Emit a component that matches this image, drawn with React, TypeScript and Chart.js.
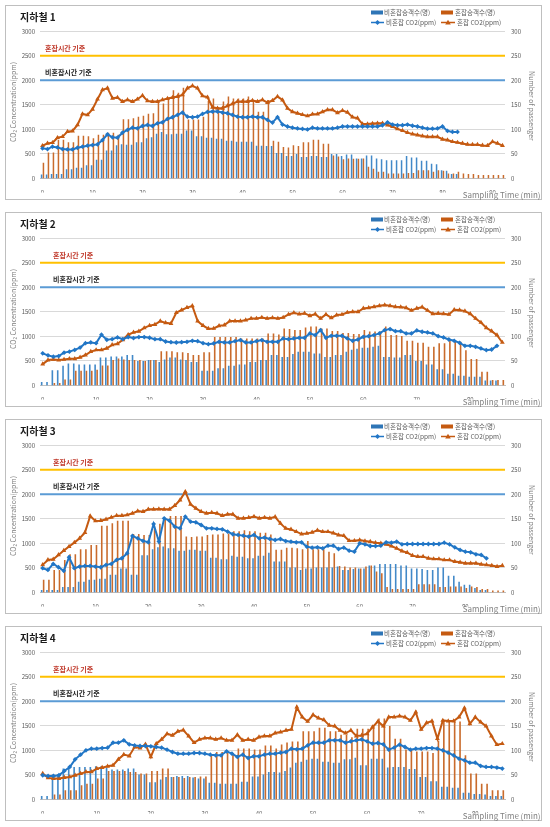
import React, { useEffect, useRef } from 'react';
import { Chart, registerables } from 'chart.js';

Chart.register(...registerables);

const FONT = '"Noto Sans CJK KR", "Noto Sans", sans-serif';

// reference limits (ppm)
const CONGESTED_LIMIT = 2500;
const NONCONGESTED_LIMIT = 2000;
const CO2_MAX = 3000;
const CO2_STEP = 500;
const PASS_MAX = 300;
const PASS_STEP = 50;
const X_LABEL_EVERY = 10;

const TITLES = ['지하철 1', '지하철 2', '지하철 3', '지하철 4'];
const LEGEND_LABELS = ['비혼잡승객수(명)', '혼잡승객수(명)', '비혼잡 CO2(ppm)', '혼잡 CO2(ppm)'];
const LIMIT_LABELS = ['혼잡시간 기준', '비혼잡시간 기준'];
const Y_TITLE = 'CO₂ Concentration(ppm)';
const Y2_TITLE = 'Number of passenger';
const X_TITLE = 'Sampling Time (min)';

// number of one-minute categories per line
const MINUTE_COUNTS = [93, 87, 88, 86];

// ---------- Subway 1 ----------
const S1_NONCONG_PASS = [8,8,9,9,9,19,19,22,22,27,27,38,38,57,57,68,70,69,69,74,74,82,84,91,95,90,90,91,91,98,98,86,86,83,83,81,81,77,77,75,75,75,75,67,67,66,66,52,52,46,46,50,44,44,46,46,44,44,50,50,46,49,49,41,41,47,47,41,39,37,37,37,37,46,43,43,36,36,30,29,17,16,9,9];
const S1_CONG_PASS = [32,53,53,79,79,74,74,87,87,86,82,89,89,93,93,89,121,121,123,126,128,132,133,157,153,160,180,175,185,120,120,120,126,158,163,145,157,167,163,163,163,167,160,136,136,160,77,75,64,63,68,66,74,74,79,79,71,71,47,45,39,41,40,40,41,24,20,14,14,10,10,10,10,11,11,17,17,17,14,17,16,10,10,14,10,9,9,7,7,7,7,7,7];
const S1_NONCONG_CO2 = [614,600,648,634,600,593,593,627,648,668,682,695,784,900,839,832,934,989,1036,1023,1070,1091,1070,1125,1145,1214,1248,1295,1343,1261,1248,1261,1316,1357,1364,1364,1343,1330,1295,1261,1248,1248,1261,1248,1248,1193,1139,1250,1100,1060,1035,1020,1010,1000,1035,1020,1020,1020,1020,1035,1060,1060,1060,1060,1060,1060,1060,1060,1085,1145,1100,1085,1085,1100,1075,1060,1035,1015,1015,1020,1060,970,950,950];
const S1_CONG_CO2 = [668,716,730,832,852,955,968,1091,1316,1295,1411,1616,1807,1841,1636,1650,1568,1602,1568,1616,1691,1582,1568,1568,1602,1630,1650,1670,1705,1841,1889,1841,1684,1657,1452,1432,1432,1480,1520,1568,1568,1568,1589,1568,1602,1548,1589,1670,1600,1430,1360,1330,1300,1275,1310,1315,1360,1400,1400,1340,1385,1350,1250,1230,1110,1110,1120,1125,1125,1090,1060,1010,975,935,905,885,865,850,850,850,800,785,750,735,715,695,690,690,675,670,750,715,670];

// ---------- Subway 2 ----------
const S2_NONCONG_PASS = [7,7,31,31,40,45,45,43,43,43,43,57,57,59,59,59,62,62,50,50,52,52,48,53,57,57,53,52,48,48,30,30,30,35,35,40,40,43,43,48,48,52,52,62,62,58,58,64,69,69,69,65,65,58,58,62,62,69,73,75,77,77,79,81,58,58,57,57,62,62,50,50,43,43,33,33,24,24,20,20,18,18,18,10,10,10];
const S2_CONG_PASS = [0,0,5,5,12,12,30,30,30,30,32,41,41,52,55,53,52,52,52,50,52,52,70,70,70,68,68,66,62,62,68,68,99,99,99,99,99,96,96,96,96,96,106,106,104,116,115,113,113,118,120,120,116,116,111,111,107,107,105,105,113,110,110,110,120,103,103,101,91,91,87,87,79,79,86,86,92,92,89,72,54,54,28,28,11,11,11];
const S2_NONCONG_CO2 = [655,614,587,600,670,690,725,773,863,877,863,1035,932,945,980,945,987,966,987,987,973,945,945,897,883,876,883,890,911,904,863,842,857,890,877,877,904,925,877,877,904,925,890,890,890,959,945,959,972,972,1061,1027,1129,972,1013,1013,1013,959,911,938,993,1006,1027,1061,1129,1149,1108,1108,1061,1061,1122,1095,1081,1061,1006,979,938,911,870,809,809,789,755,721,734,809];
const S2_CONG_CO2 = [435,518,531,518,531,545,545,573,621,690,725,725,759,828,849,932,1035,1083,1104,1173,1221,1242,1311,1277,1263,1484,1539,1587,1622,1311,1221,1159,1163,1217,1230,1312,1312,1312,1333,1367,1367,1387,1367,1380,1367,1387,1448,1482,1455,1469,1421,1455,1367,1448,1380,1435,1448,1489,1503,1503,1571,1584,1605,1625,1639,1625,1605,1598,1584,1530,1571,1598,1530,1462,1469,1462,1448,1544,1537,1516,1462,1367,1285,1176,1108,1027,877];

// ---------- Subway 3 ----------
const S3_NONCONG_PASS = [5,5,5,5,11,11,11,22,22,26,26,28,28,36,36,49,49,36,36,76,76,88,92,94,90,90,85,85,87,87,85,85,71,71,68,68,75,73,73,70,70,75,75,81,63,63,63,51,51,46,49,49,51,51,51,51,53,46,46,48,49,49,55,55,58,58,58,58,55,55,49,49,48,46,46,51,51,34,34,22,16,16,9,5,5];
const S3_CONG_PASS = [26,26,46,46,66,78,78,88,88,97,97,136,136,141,146,146,146,119,119,117,117,130,140,150,156,156,156,114,113,114,114,117,118,118,120,120,125,125,127,125,125,122,122,118,87,87,91,91,90,88,105,88,88,88,83,80,54,53,51,51,49,53,55,43,39,11,7,7,7,7,7,17,17,17,17,11,11,12,12,12,9,12,11,7,7,4,4,4];
const S3_NONCONG_CO2 = [495,461,583,515,441,719,495,529,542,542,529,515,563,583,664,698,800,1153,1105,1051,1024,1397,1037,1512,1464,1342,1308,1546,1444,1430,1376,1308,1308,1295,1288,1241,1187,1173,1159,1139,1173,1105,1119,1092,1070,1090,1049,1036,1022,1022,934,914,921,900,955,955,887,914,853,833,1002,982,948,948,955,1022,1015,1036,982,988,988,988,988,988,988,988,1015,982,921,867,833,819,779,765,697];
const S3_CONG_CO2 = [563,664,678,766,854,936,1017,1105,1220,1559,1458,1464,1492,1532,1566,1566,1580,1614,1661,1648,1695,1695,1702,1695,1695,1770,1885,2054,1797,1715,1648,1614,1627,1614,1566,1593,1593,1512,1512,1526,1546,1512,1526,1512,1543,1408,1307,1286,1239,1191,1205,1225,1266,1239,1239,1212,1171,1158,1056,1056,1070,1049,1036,1015,1002,982,948,900,846,812,751,731,731,697,684,684,663,663,630,616,596,596,596,575,562,548,528,548];

// ---------- Subway 4 ----------
const S4_NONCONG_PASS = [7,7,51,51,63,63,66,66,66,66,68,68,64,61,61,61,63,63,51,51,35,35,41,46,46,48,48,48,45,43,43,34,34,32,32,32,32,36,36,47,47,51,56,56,55,58,65,75,77,81,83,83,77,77,75,75,82,82,85,70,70,83,83,83,65,66,66,66,62,62,46,46,37,37,26,26,24,24,14,14,11,11,10,7,7,7];
const S4_CONG_PASS = [0,0,10,10,19,19,19,29,32,32,43,43,58,58,58,58,56,56,53,53,58,58,63,63,46,46,44,46,46,47,47,91,97,97,95,95,104,104,104,102,102,110,110,104,112,116,118,118,139,139,139,146,146,139,139,132,132,127,144,144,144,150,165,165,150,124,124,102,102,98,98,98,95,120,159,159,159,159,90,53,53,32,32,19,19,19];
const S4_NONCONG_CO2 = [494,481,481,494,582,663,819,914,1002,1036,1036,1049,1056,1158,1158,1205,1124,1103,1090,1090,1083,1070,1056,1015,968,934,934,934,948,948,934,914,900,900,982,934,867,914,846,880,880,914,934,934,955,968,1036,1022,1036,1103,1158,1158,1158,1205,1205,1205,1158,1185,1205,1225,1185,1137,1151,1124,1015,1056,1117,1070,1015,1036,1036,1049,1049,1036,1002,955,900,833,799,751,751,684,663,663,650,630];
const S4_CONG_CO2 = [528,440,427,427,447,460,494,528,562,562,630,650,677,697,819,914,887,1070,1049,1124,867,1137,1225,1340,1307,1388,1415,1293,1158,1225,1252,1252,1225,1252,1205,1205,1320,1205,1225,1205,1273,1293,1293,1354,1374,1408,1428,1882,1679,1591,1726,1659,1625,1510,1496,1408,1354,1408,1293,1307,1340,1476,1591,1496,1679,1679,1699,1679,1611,1780,1428,1564,1598,1239,1611,1598,1598,1679,1862,1544,1679,1577,1496,1293,1117,1137];

const PANELS = [
  { title: TITLES[0], n: MINUTE_COUNTS[0], ncPass: S1_NONCONG_PASS, cPass: S1_CONG_PASS, ncCo2: S1_NONCONG_CO2, cCo2: S1_CONG_CO2, labelDx: 5 },
  { title: TITLES[1], n: MINUTE_COUNTS[1], ncPass: S2_NONCONG_PASS, cPass: S2_CONG_PASS, ncCo2: S2_NONCONG_CO2, cCo2: S2_CONG_CO2, labelDx: 13 },
  { title: TITLES[2], n: MINUTE_COUNTS[2], ncPass: S3_NONCONG_PASS, cPass: S3_CONG_PASS, ncCo2: S3_NONCONG_CO2, cCo2: S3_CONG_CO2, labelDx: 13 },
  { title: TITLES[3], n: MINUTE_COUNTS[3], ncPass: S4_NONCONG_PASS, cPass: S4_CONG_PASS, ncCo2: S4_NONCONG_CO2, cCo2: S4_CONG_CO2, labelDx: 13 },
];

const C_BLUE_BAR = '#4289C8';
const C_ORANGE_BAR = '#C96B2C';
const C_BLUE_LINE = '#2176C6';
const C_ORANGE_LINE = '#C55A11';
const C_YELLOW = '#FFC000';
const C_LIMIT_BLUE = '#5B9BD5';
const C_TEXT = '#595959';
const C_AXIS_TITLE = '#7F7F7F';

const W = 550;
const H = 205;

function drawDiamond(ctx: CanvasRenderingContext2D, x: number, y: number, r: number) {
  ctx.beginPath();
  ctx.moveTo(x, y - r);
  ctx.lineTo(x + r, y);
  ctx.lineTo(x, y + r);
  ctx.lineTo(x - r, y);
  ctx.closePath();
  ctx.fill();
}
function drawTriangle(ctx: CanvasRenderingContext2D, x: number, y: number, r: number) {
  ctx.beginPath();
  ctx.moveTo(x, y - r);
  ctx.lineTo(x + r, y + r * 0.7);
  ctx.lineTo(x - r, y + r * 0.7);
  ctx.closePath();
  ctx.fill();
}

function makeDecor(cfg: any) {
  return {
    id: 'decor',
    beforeDatasetsDraw(chart: any) {
      const { ctx, chartArea: a, scales } = chart;
      const y = scales.y;
      ctx.save();
      const limits: [number, string][] = [
        [CONGESTED_LIMIT, C_YELLOW],
        [NONCONGESTED_LIMIT, C_LIMIT_BLUE],
      ];
      limits.forEach(([v, c]) => {
        const py = y.getPixelForValue(v);
        ctx.strokeStyle = c;
        ctx.lineWidth = 2;
        ctx.beginPath();
        ctx.moveTo(a.left, py);
        ctx.lineTo(a.right, py);
        ctx.stroke();
      });
      ctx.font = `bold 7px ${FONT}`;
      ctx.textBaseline = 'middle';
      ctx.textAlign = 'left';
      ctx.fillStyle = '#C0392B';
      ctx.fillText(LIMIT_LABELS[0], a.left + cfg.labelDx, y.getPixelForValue(CONGESTED_LIMIT) - 7.5);
      ctx.fillStyle = '#262626';
      ctx.fillText(LIMIT_LABELS[1], a.left + cfg.labelDx, y.getPixelForValue(NONCONGESTED_LIMIT) - 8);
      ctx.restore();
    },
    afterDraw(chart: any) {
      const { ctx, chartArea: a } = chart;
      ctx.save();
      // title
      ctx.fillStyle = '#1a1a1a';
      ctx.font = `bold 10px ${FONT}`;
      ctx.textAlign = 'left';
      ctx.textBaseline = 'middle';
      ctx.fillText(cfg.title, 20, 17);

      // left axis title
      ctx.fillStyle = C_AXIS_TITLE;
      ctx.font = `7px ${FONT}`;
      ctx.textAlign = 'center';
      ctx.save();
      ctx.translate(13, (a.top + a.bottom) / 2 - 3);
      ctx.rotate(-Math.PI / 2);
      ctx.fillText(Y_TITLE, 0, 0);
      ctx.restore();
      // right axis title
      ctx.save();
      ctx.translate(531.5, (a.top + a.bottom) / 2 + 1);
      ctx.rotate(Math.PI / 2);
      ctx.fillText(Y2_TITLE, 0, 0);
      ctx.restore();
      // x title
      ctx.font = `8px ${FONT}`;
      ctx.textAlign = 'right';
      ctx.fillText(X_TITLE, 540.5, 195);

      // legend
      ctx.font = `6.5px ${FONT}`;
      ctx.textAlign = 'left';
      const r1 = 12.5;
      const r2 = 22.5;
      ctx.fillStyle = '#2E75B6';
      ctx.fillRect(371, r1 - 2, 12, 4);
      ctx.fillStyle = C_ORANGE_LINE;
      ctx.fillRect(441, r1 - 2, 12, 4);
      ctx.fillStyle = C_TEXT;
      ctx.fillText(LEGEND_LABELS[0], 384, r1);
      ctx.fillText(LEGEND_LABELS[1], 455, r1);

      ctx.lineWidth = 1.5;
      ctx.strokeStyle = C_BLUE_LINE;
      ctx.beginPath();
      ctx.moveTo(371, r2);
      ctx.lineTo(384, r2);
      ctx.stroke();
      ctx.fillStyle = C_BLUE_LINE;
      drawDiamond(ctx, 377.5, r2, 2.5);
      ctx.strokeStyle = C_ORANGE_LINE;
      ctx.beginPath();
      ctx.moveTo(441, r2);
      ctx.lineTo(455, r2);
      ctx.stroke();
      ctx.fillStyle = C_ORANGE_LINE;
      drawTriangle(ctx, 448, r2, 2.8);
      ctx.fillStyle = C_TEXT;
      ctx.fillText(LEGEND_LABELS[2], 386, r2);
      ctx.fillText(LEGEND_LABELS[3], 457, r2);
      ctx.restore();
    },
  };
}

function Panel({ cfg, top }: { cfg: any; top: number }) {
  const ref = useRef<HTMLCanvasElement | null>(null);
  useEffect(() => {
    if (!ref.current) return;
    const labels = Array.from({ length: cfg.n }, (_, i) => String(i));
    const tickFont = { family: FONT, size: 6 };
    const chart = new Chart(ref.current, {
      type: 'bar',
      data: {
        labels,
        datasets: [
          {
            type: 'line',
            label: LEGEND_LABELS[2],
            data: cfg.ncCo2,
            yAxisID: 'y',
            borderColor: C_BLUE_LINE,
            backgroundColor: C_BLUE_LINE,
            borderWidth: 2,
            pointStyle: 'rectRot',
            pointRadius: 2.4,
            pointBorderWidth: 0,
            pointBackgroundColor: C_BLUE_LINE,
            tension: 0,
            order: 0,
          } as any,
          {
            type: 'line',
            label: LEGEND_LABELS[3],
            data: cfg.cCo2,
            yAxisID: 'y',
            borderColor: C_ORANGE_LINE,
            backgroundColor: C_ORANGE_LINE,
            borderWidth: 2,
            pointStyle: 'triangle',
            pointRadius: 2.8,
            pointBorderWidth: 0,
            pointBackgroundColor: C_ORANGE_LINE,
            tension: 0,
            order: 1,
          } as any,
          {
            type: 'bar',
            label: LEGEND_LABELS[0],
            data: cfg.ncPass,
            yAxisID: 'y2',
            backgroundColor: C_BLUE_BAR,
            barPercentage: 0.8,
            categoryPercentage: 0.75,
            order: 2,
          },
          {
            type: 'bar',
            label: LEGEND_LABELS[1],
            data: cfg.cPass,
            yAxisID: 'y2',
            backgroundColor: C_ORANGE_BAR,
            barPercentage: 0.8,
            categoryPercentage: 0.75,
            order: 3,
          },
        ],
      },
      options: {
        responsive: false,
        maintainAspectRatio: false,
        animation: false,
        devicePixelRatio: 1,
        layout: { padding: { top: 31.3, bottom: 12.5, left: 0, right: 0 } },
        plugins: { legend: { display: false }, tooltip: { enabled: false }, title: { display: false } },
        scales: {
          x: {
            type: 'category',
            offset: true,
            grid: { display: false },
            border: { display: true, color: '#BFBFBF', width: 1 },
            ticks: {
              autoSkip: false,
              maxRotation: 0,
              minRotation: 0,
              padding: 3,
              color: C_TEXT,
              font: tickFont,
              callback: (_v: any, i: number) => (i % X_LABEL_EVERY === 0 ? String(i) : ''),
            },
            afterFit: (s: any) => {
              s.height = 14;
            },
          },
          y: {
            type: 'linear',
            position: 'left',
            min: 0,
            max: CO2_MAX,
            grid: { color: '#D9D9D9', lineWidth: 1, drawTicks: false },
            border: { display: false },
            ticks: { stepSize: CO2_STEP, padding: 5, color: C_TEXT, font: tickFont, callback: (v: any) => String(v) },
            afterFit: (s: any) => {
              s.width = 40;
            },
          },
          y2: {
            type: 'linear',
            position: 'right',
            min: 0,
            max: PASS_MAX,
            grid: { display: false, drawTicks: false },
            border: { display: false },
            ticks: { stepSize: PASS_STEP, padding: 6, color: C_TEXT, font: tickFont, callback: (v: any) => String(v) },
            afterFit: (s: any) => {
              s.width = 45;
            },
          },
        },
      } as any,
      plugins: [makeDecor(cfg)],
    });
    return () => chart.destroy();
  }, [cfg]);

  return (
    <div style={{ position: 'absolute', left: 0, top, width: W, height: H }}>
      <div
        style={{
          position: 'absolute',
          left: 5,
          top: 5,
          width: 537,
          height: 195,
          border: '1px solid #BFBFBF',
          boxSizing: 'border-box',
          background: '#ffffff',
        }}
      />
      <canvas ref={ref} width={W} height={H} style={{ position: 'absolute', left: 0, top: 0, display: 'block' }} />
    </div>
  );
}

const PANEL_TOPS = [0, 207, 414, 621];

export default function App() {
  return (
    <div style={{ position: 'absolute', left: 0, top: 0, width: 550, height: 827, background: '#ffffff' }}>
      {PANELS.map((p, i) => (
        <Panel key={i} cfg={p} top={PANEL_TOPS[i]} />
      ))}
    </div>
  );
}
